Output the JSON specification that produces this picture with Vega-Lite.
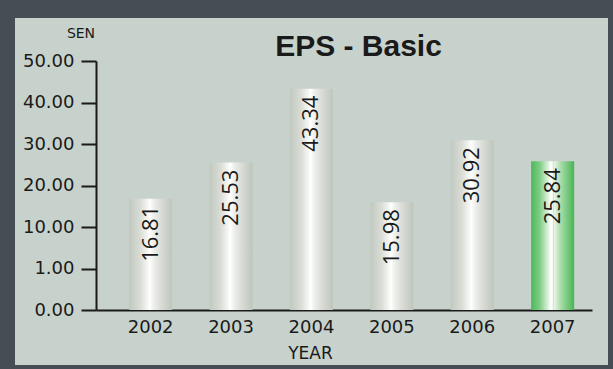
{
  "$schema": "https://vega.github.io/schema/vega-lite/v6.json",
  "width": 593,
  "height": 347,
  "autosize": "none",
  "padding": {"left": 15, "top": 18, "right": 5, "bottom": 4},
  "background": "#474d54",
  "title": {
    "text": "EPS - Basic",
    "font": "Liberation Sans",
    "fontSize": 30,
    "fontWeight": "bold",
    "color": "#1a1a1a",
    "anchor": "middle",
    "frame": "group",
    "dx": 47,
    "offset": -68,
    "baseline": "alphabetic"
  },
  "config": {
    "view": {"fill": "#c8d2cc", "stroke": null},
    "axis": {
      "domainColor": "#1a1a1a",
      "domainWidth": 2,
      "tickColor": "#1a1a1a",
      "tickWidth": 2,
      "labelColor": "#1a1a1a",
      "titleColor": "#1a1a1a",
      "labelFont": "DejaVu Sans",
      "titleFont": "DejaVu Sans",
      "titleFontWeight": "normal",
      "grid": false
    }
  },
  "data": {
    "values": [
      {"year": "2002", "eps": 16.81},
      {"year": "2003", "eps": 25.53},
      {"year": "2004", "eps": 43.34},
      {"year": "2005", "eps": 15.98},
      {"year": "2006", "eps": 30.92},
      {"year": "2007", "eps": 25.84}
    ]
  },
  "encoding": {
    "x": {
      "field": "year",
      "type": "ordinal",
      "scale": {"range": [81, 577], "paddingInner": 0.465, "paddingOuter": 0.317, "align": 0.65},
      "axis": {
        "title": "YEAR",
        "titleFontSize": 17,
        "titleX": 295,
        "titleY": 48,
        "titleBaseline": "alphabetic",
        "labelAngle": 0,
        "labelFontSize": 18,
        "labelPadding": 8,
        "ticks": false,
        "offset": -55
      }
    },
    "y": {
      "field": "eps",
      "type": "quantitative",
      "scale": {"domain": [0, 1, 10, 50], "range": [292, 250.5, 209, 43], "zero": false, "nice": false},
      "axis": {
        "title": "SEN",
        "titleFontSize": 14,
        "titleAngle": 0,
        "titleAlign": "center",
        "titleBaseline": "alphabetic",
        "titleX": -15.5,
        "titleY": 19,
        "values": [0, 1, 10, 20, 30, 40, 50],
        "format": ".2f",
        "labelFontSize": 18,
        "labelPadding": 7,
        "tickSize": 15,
        "offset": -81
      }
    }
  },
  "layer": [
    {
      "mark": {"type": "bar"},
      "encoding": {
        "color": {
          "condition": {
            "test": "datum.year === '2007'",
            "value": {
              "gradient": "linear", "x1": 0, "x2": 1, "y1": 0, "y2": 0,
              "stops": [
                {"offset": 0, "color": "#4cb85a"},
                {"offset": 0.2, "color": "#80cc86"},
                {"offset": 0.38, "color": "#d6efd4"},
                {"offset": 0.46, "color": "#ffffff"},
                {"offset": 0.5, "color": "#f2f9f0"},
                {"offset": 0.51, "color": "#c6d0c5"},
                {"offset": 0.53, "color": "#eaf6e8"},
                {"offset": 0.7, "color": "#a4daa6"},
                {"offset": 1, "color": "#47b553"}
              ]
            }
          },
          "value": {
            "gradient": "linear", "x1": 0, "x2": 1, "y1": 0, "y2": 0,
            "stops": [
              {"offset": 0, "color": "#c2c8c0"},
              {"offset": 0.25, "color": "#d8dcd5"},
              {"offset": 0.42, "color": "#f4f5f1"},
              {"offset": 0.48, "color": "#ffffff"},
              {"offset": 0.58, "color": "#eceee9"},
              {"offset": 0.8, "color": "#d3d7d0"},
              {"offset": 1, "color": "#bfc5bd"}
            ]
          }
        }
      }
    },
    {
      "mark": {
        "type": "text",
        "angle": 270,
        "align": "right",
        "baseline": "middle",
        "dx": -7,
        "font": "Open Sans",
        "fontSize": 22,
        "color": "#1a1a1a"
      },
      "encoding": {
        "text": {"field": "eps", "type": "quantitative", "format": ".2f"}
      }
    }
  ]
}
